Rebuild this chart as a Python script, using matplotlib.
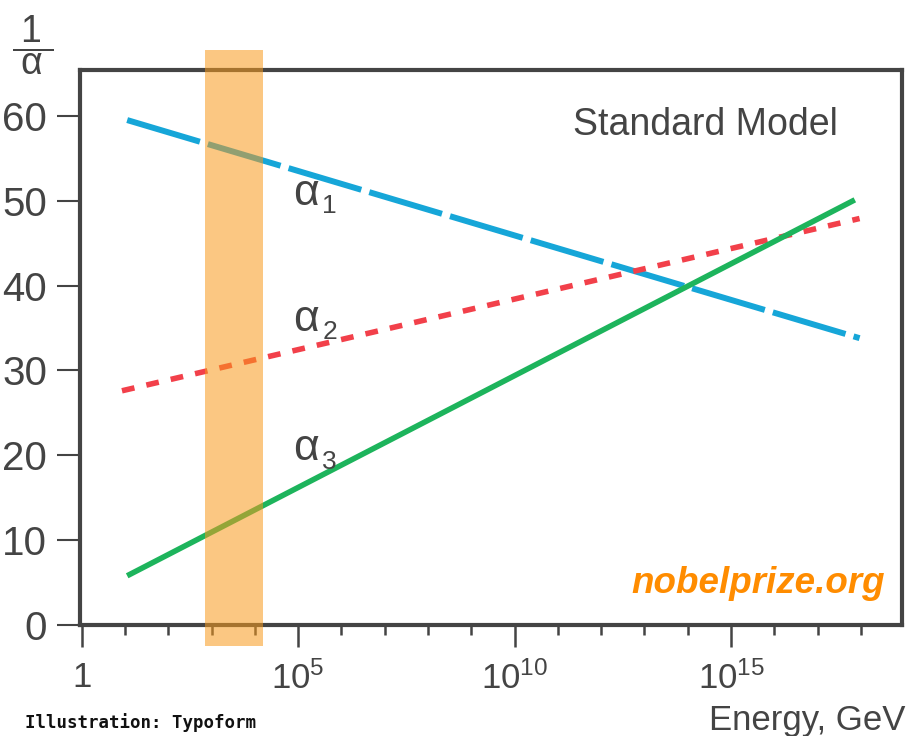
import matplotlib
matplotlib.use("Agg")
import matplotlib.pyplot as plt
from matplotlib.patches import Rectangle

plt.rcParams['font.family'] = ['Liberation Sans', 'DejaVu Sans']
plt.rcParams['mathtext.fontset'] = 'custom'
plt.rcParams['mathtext.rm'] = 'Liberation Sans'
plt.rcParams['mathtext.it'] = 'Liberation Sans:italic'

# ---- data (log10 of energy in GeV, 1/alpha) ----
alpha1_x = [1.05, 17.97]
alpha1_y = [59.5, 33.8]
alpha2_x = [0.93, 17.97]
alpha2_y = [27.6, 47.9]
alpha3_x = [1.05, 17.86]
alpha3_y = [5.8, 50.1]
band_range = [2.85, 4.19]          # LHC-era energy band (log10 E)
band_y = [-2.5, 67.8]
major_ticks = [0, 5, 10, 15]
major_labels = ['1', r'$\mathregular{10^{5}}$', r'$\mathregular{10^{10}}$', r'$\mathregular{10^{15}}$']
minor_ticks = [i for i in range(1, 19) if i % 5 != 0]
y_ticks = [0, 10, 20, 30, 40, 50, 60]
curve_subs = ['1', '2', '3']
label_pos = [(4.88, 49.5), (4.88, 34.7), (4.88, 19.4)]

TXT = '#444444'
W, H = 911, 736
fig = plt.figure(figsize=(W / 100, H / 100), dpi=100)
ax = fig.add_axes([80 / W, 1 - 625 / H, (902 - 80) / W, (625 - 70) / H])

ax.plot(alpha1_x, alpha1_y, color='#16A6D8', lw=4.3, dashes=(12.7, 1.4),
        solid_capstyle='butt', dash_capstyle='butt', zorder=2)
ax.plot(alpha2_x, alpha2_y, color='#F2404A', lw=4.0, dashes=(2.3, 2.2),
        dash_capstyle='butt', zorder=2)
ax.plot(alpha3_x, alpha3_y, color='#1DB45C', lw=4.0, solid_capstyle='butt', zorder=2)

ax.add_patch(Rectangle((band_range[0], band_y[0]), band_range[1] - band_range[0],
                       band_y[1] - band_y[0], facecolor='#F89A1C', alpha=0.55,
                       edgecolor='none', clip_on=False, zorder=4))

for sub, (x, y) in zip(curve_subs, label_pos):
    ax.text(x, y, r'$\mathregular{α}$', fontsize=32, color=TXT, va='baseline', ha='left')
    ax.annotate(sub, xy=(x, y), xytext=(21, -6), textcoords='offset points',
                fontsize=19, color=TXT, va='baseline', ha='left')

ax.set_xlim(-0.04, 18.95)
ax.set_ylim(0, 65.4)

for s in ax.spines.values():
    s.set_linewidth(3)
    s.set_color(TXT)

ax.set_xticks(major_ticks)
ax.set_xticklabels(major_labels)
ax.set_xticks(minor_ticks, minor=True)
ax.set_yticks(y_ticks)
ax.set_yticklabels([str(v) for v in y_ticks])
ax.tick_params(axis='x', which='major', length=16, width=1.8, color=TXT,
               labelsize=25, labelcolor=TXT, pad=10)
ax.tick_params(axis='x', which='minor', length=7, width=1.8, color=TXT)
ax.tick_params(axis='y', which='major', length=16.5, width=1.5, color=TXT,
               labelsize=29, labelcolor=TXT, pad=7)

ax.text(573 / W, 1 - 135 / H, 'Standard Model', transform=fig.transFigure,
        fontsize=27, color=TXT, ha='left', va='baseline')
fig.text(885 / W, 1 - 593 / H, 'nobelprize.org', fontsize=26.5, color='#FF8C00',
         fontweight='bold', fontstyle='italic', ha='right', va='baseline')
fig.text(905 / W, 1 - 730 / H, 'Energy, GeV', fontsize=25, color=TXT,
         ha='right', va='baseline')
fig.text(25 / W, 1 - 728 / H, 'Illustration: Typoform', fontsize=12.5,
         family='DejaVu Sans Mono', fontweight='bold', color='#111111',
         ha='left', va='baseline')

# 1/alpha axis label (single fraction text)
fig.text(33 / W, 1 - 45 / H, r'$\dfrac{\;\mathregular{1}\;}{\;\mathregular{α}\;}$',
         fontsize=27, color=TXT, ha='center', va='center')

fig.savefig('out.png', dpi=100)
